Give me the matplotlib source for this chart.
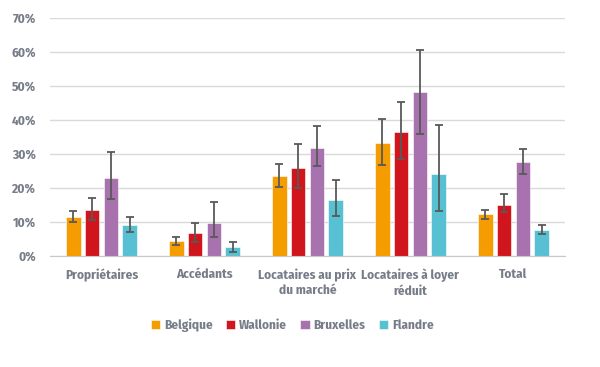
import numpy as np
import matplotlib.pyplot as plt
from matplotlib import font_manager as fm

categories = ["Propriétaires", "Accédants", "Locataires au prix\ndu marché",
              "Locataires à loyer\nréduit", "Total"]
series = ["Belgique", "Wallonie", "Bruxelles", "Flandre"]
colors = ["#F59C00", "#D0161C", "#A872AE", "#57C1D3"]

# values in %, with lower / upper bounds of the confidence interval
belgique = [11.6, 4.3, 23.6, 33.2, 12.3]
belgique_lo = [10.0, 3.1, 20.3, 26.7, 11.0]
belgique_hi = [13.2, 5.7, 27.1, 40.2, 13.5]

wallonie = [13.6, 6.9, 25.8, 36.5, 15.1]
wallonie_lo = [10.6, 4.1, 19.9, 28.5, 12.8]
wallonie_hi = [17.1, 9.8, 32.8, 45.3, 18.1]

bruxelles = [22.9, 9.7, 31.8, 48.1, 27.6]
bruxelles_lo = [16.7, 5.7, 26.4, 36.0, 24.2]
bruxelles_hi = [30.6, 16.0, 38.1, 60.6, 31.4]

flandre = [9.0, 2.6, 16.6, 24.2, 7.6]
flandre_lo = [7.2, 1.2, 11.8, 13.1, 6.4]
flandre_hi = [11.5, 4.2, 22.4, 38.4, 9.2]

vals = [belgique, wallonie, bruxelles, flandre]
los = [belgique_lo, wallonie_lo, bruxelles_lo, flandre_lo]
his = [belgique_hi, wallonie_hi, bruxelles_hi, flandre_hi]

# pick a condensed font if there is one
installed = {f.name for f in fm.fontManager.ttflist}
fsize = 7.5
for cand, sz in [("Fira Sans Condensed", 9.5), ("Barlow Semi Condensed", 9.5),
                 ("Roboto Condensed", 9.5), ("Open Sans Condensed", 9.5),
                 ("Liberation Sans Narrow", 9.5)]:
    if cand in installed:
        plt.rcParams['font.family'] = [cand, 'DejaVu Sans']
        fsize = sz
        break
else:
    plt.rcParams['font.family'] = ['DejaVu Sans']

txt_col = "#767C88"

fig = plt.figure(figsize=(6, 3.67), dpi=100)
ax = fig.add_axes([0.0833, 0.3025, 0.8583, 0.6485])

x = np.arange(len(categories))
pitch = 0.182
bw = 0.14
for i, name in enumerate(series):
    v = np.array(vals[i]) / 100
    lo = np.array(los[i]) / 100
    hi = np.array(his[i]) / 100
    pos = x + (i - 1.5) * pitch
    ax.bar(pos, v, bw, color=colors[i], edgecolor="white", linewidth=0.4,
           label=name, zorder=2)
    ax.errorbar(pos, v, yerr=[v - lo, hi - v], fmt="none", ecolor="#595959",
                elinewidth=1.3, capsize=2.8, capthick=1.3, zorder=3)

ax.set_ylim(0, 0.7)
ax.set_xlim(-0.5, len(categories) - 0.5)
yt = np.arange(0, 0.71, 0.1)
ax.set_yticks(yt)
ax.set_yticklabels([f"{int(round(t * 100))}%" for t in yt])
ax.set_xticks(x)
ax.set_xticklabels(categories, linespacing=1.3)
ax.yaxis.grid(True, color="#D9D9D9", linewidth=1, zorder=0)
ax.set_axisbelow(True)
for s in ["top", "right", "left"]:
    ax.spines[s].set_visible(False)
ax.spines["bottom"].set_color("#C8C8C8")
ax.tick_params(length=0, colors=txt_col, labelsize=fsize, pad=9)
ax.tick_params(axis="y", pad=10)
for lab in ax.get_xticklabels() + ax.get_yticklabels():
    lab.set_fontweight("bold")

fig.legend(loc="center", bbox_to_anchor=(0.487, 0.1125), ncol=4, frameon=False,
           handlelength=0.7, handleheight=0.7, handletextpad=0.3,
           columnspacing=1.0, prop={"weight": "bold", "size": fsize},
           labelcolor=txt_col)

fig.savefig("out.png", dpi=100)
